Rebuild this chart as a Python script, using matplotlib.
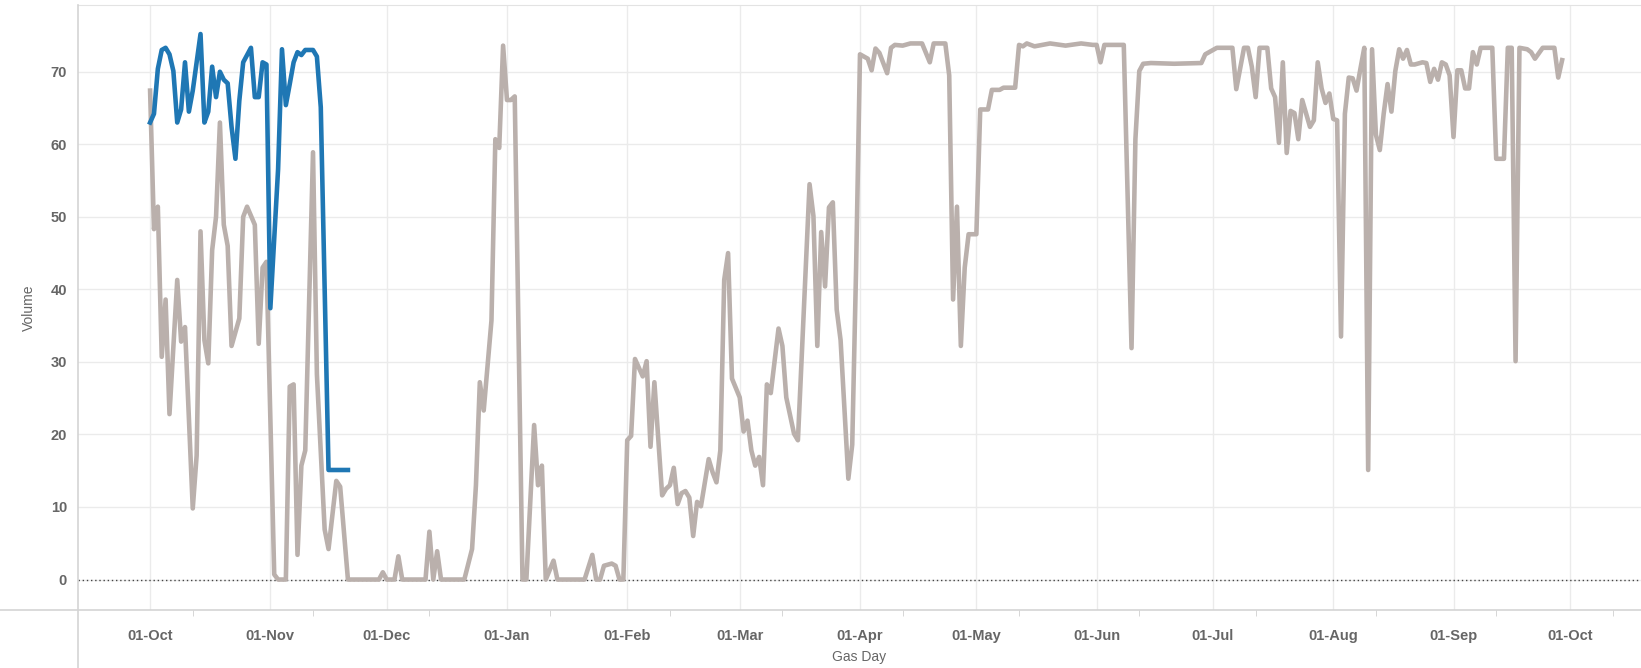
import matplotlib.pyplot as plt
import matplotlib.dates as mdates
from matplotlib.lines import Line2D
import numpy as np

# gas year starting 01-Oct (day offset, volume)
start = np.datetime64('2015-10-01')

gray_days = [0, 1, 2, 3, 4, 5, 7, 8, 9, 11, 12, 13, 14, 15, 16, 17, 18, 19, 20, 21,
             23, 24, 25, 27, 28, 29, 30, 32, 33, 35, 36, 37, 38, 39, 40, 42, 43, 45, 46, 48,
             49, 51, 59, 60, 61, 63, 64, 65, 71, 72, 73, 74, 75, 81, 83, 84, 85, 86, 88, 89,
             90, 91, 92, 93, 94, 96, 97, 99, 100, 101, 102, 104, 105, 112, 114, 115, 116, 117, 119, 120,
             121, 122, 123, 124, 125, 127, 128, 129, 130, 132, 133, 134, 135, 136, 137, 138, 139, 140, 141, 142,
             144, 145, 146, 147, 148, 149, 150, 152, 153, 154, 155, 156, 157, 158, 159, 160, 162, 163, 164, 166,
             167, 170, 171, 172, 173, 174, 175, 176, 177, 178, 180, 181, 182, 183, 185, 186, 187, 188, 190, 191,
             192, 194, 196, 199, 201, 202, 205, 206, 207, 208, 209, 210, 211, 213, 214, 216, 217, 219, 220, 223,
             224, 225, 226, 228, 232, 236, 240, 243, 244, 245, 246, 251, 253, 254, 255, 256, 258, 264, 271, 272,
             275, 279, 280, 282, 283, 284, 285, 286, 288, 289, 290, 291, 292, 293, 294, 295, 296, 297, 299, 300,
             301, 302, 303, 304, 305, 306, 307, 308, 309, 310, 311, 312, 313, 314, 315, 316, 317, 318, 319, 320,
             321, 322, 323, 324, 325, 326, 328, 329, 330, 331, 332, 333, 334, 335, 336, 337, 338, 339, 340, 341,
             342, 343, 346, 347, 349, 350, 351, 352, 353, 355, 356, 357, 359, 362, 363, 364]
gray_vol = [67.4, 48.3, 51.4, 30.7, 38.6, 22.8, 41.3, 32.8, 34.8, 9.8, 17.1, 48.0, 33.0, 29.8, 45.4, 50.0, 63.0, 48.9, 46.0, 32.2,
            36.0, 50.0, 51.4, 48.9, 32.5, 43.0, 43.8, 0.7, 0.0, 0.0, 26.6, 26.9, 3.4, 15.7, 17.8, 58.9, 28.3, 6.9, 4.2, 13.6,
            12.8, 0.0, 0.0, 1.0, 0.0, 0.0, 3.2, 0.0, 0.0, 6.6, 0.0, 3.9, 0.0, 0.0, 4.2, 13.0, 27.2, 23.3, 35.7, 60.7,
            59.5, 73.6, 66.1, 66.1, 66.6, 0.0, 0.0, 21.3, 13.0, 15.7, 0.0, 2.6, 0.0, 0.0, 3.4, 0.0, 0.0, 1.9, 2.2, 1.9,
            0.0, 0.0, 19.2, 19.8, 30.4, 28.0, 30.1, 18.3, 27.2, 11.6, 12.5, 13.0, 15.4, 10.4, 11.9, 12.2, 11.3, 6.0, 10.7, 10.1,
            16.6, 14.8, 13.4, 17.8, 41.3, 45.0, 27.7, 25.1, 20.4, 21.9, 17.8, 15.7, 16.9, 13.0, 26.9, 25.7, 34.6, 32.2, 25.1, 20.1,
            19.2, 54.5, 50.1, 32.2, 47.9, 40.4, 51.3, 52.0, 37.2, 33.0, 13.9, 18.6, 43.0, 72.4, 71.8, 70.2, 73.2, 72.6, 69.8, 73.3,
            73.7, 73.6, 73.9, 73.9, 71.3, 73.9, 73.9, 69.5, 38.6, 51.4, 32.2, 43.0, 47.6, 47.6, 64.8, 64.8, 67.5, 67.5, 67.8, 67.8,
            73.7, 73.5, 73.9, 73.5, 73.9, 73.6, 73.9, 73.7, 73.7, 71.3, 73.7, 73.7, 31.9, 60.7, 70.1, 71.1, 71.2, 71.1, 71.2, 72.4,
            73.3, 73.3, 67.6, 73.3, 73.3, 70.7, 66.5, 73.3, 73.3, 67.7, 66.5, 60.2, 71.3, 58.8, 64.6, 64.3, 60.7, 66.1, 62.4, 63.3,
            71.3, 67.7, 65.7, 67.0, 63.5, 63.3, 33.5, 64.2, 69.2, 69.1, 67.4, 70.4, 73.3, 15.1, 73.1, 61.3, 59.2, 64.2, 68.3, 64.5,
            70.1, 73.1, 71.8, 73.0, 71.0, 71.0, 71.3, 71.2, 68.6, 70.4, 68.9, 71.3, 71.0, 69.5, 61.0, 70.2, 70.2, 67.7, 67.7, 72.7,
            71.0, 73.3, 73.3, 58.0, 58.0, 73.3, 73.3, 30.1, 73.3, 73.1, 72.7, 71.8, 73.3, 73.3, 69.2, 71.6]

blue_days = [0, 1, 2, 3, 4, 5, 6, 7, 8, 9, 10, 11, 13, 14, 15, 16, 17, 18, 19, 20,
             21, 22, 23, 24, 26, 27, 28, 29, 30, 31, 33, 34, 35, 36, 37, 38, 39, 40, 42, 43,
             44, 46, 51]
blue_vol = [63.0, 64.2, 70.4, 73.0, 73.3, 72.4, 70.1, 63.0, 64.8, 71.3, 64.5, 67.4, 75.2, 63.0, 64.5, 70.7, 66.5, 70.0, 68.9, 68.4,
            62.4, 58.0, 66.0, 71.3, 73.3, 66.5, 66.5, 71.3, 71.0, 37.4, 56.6, 73.1, 65.4, 68.3, 71.3, 72.7, 72.3, 73.0, 73.0, 72.1,
            65.1, 15.1, 15.1]

gray_dates = start + np.array(gray_days).astype('timedelta64[D]')
blue_dates = start + np.array(blue_days).astype('timedelta64[D]')

plt.rcParams['font.family'] = ['Liberation Sans', 'DejaVu Sans']

W, H = 1641, 668
fig = plt.figure(figsize=(W / 100, H / 100), dpi=100)
left, top, bottom = 78, 5, 610
ax = fig.add_axes([left / W, 1 - bottom / H, 1 - left / W, (bottom - top) / H])

ax.plot(gray_dates, gray_vol, color='#bab0ac', linewidth=3.3, solid_joinstyle='round', zorder=3)
ax.plot(blue_dates, blue_vol, color='#1f77b4', linewidth=3.3, solid_joinstyle='round', zorder=4)
ax.axhline(0, color='#444444', linewidth=1, linestyle=(0, (1, 2)), zorder=2)

ax.set_xlim(np.datetime64('2015-09-12T10'), np.datetime64('2016-10-19T08'))
ax.set_ylim(-4.2, 79.2)
ax.set_yticks(np.arange(0, 80, 10))

ax.xaxis.set_major_locator(mdates.MonthLocator(bymonthday=1))
ax.xaxis.set_major_formatter(mdates.DateFormatter('%d-%b'))
ax.xaxis.set_minor_locator(mdates.MonthLocator(bymonthday=12))

ax.grid(True, which='major', color='#ebebeb', linewidth=1, zorder=0)
ax.set_axisbelow(True)

for s in ['left', 'right', 'bottom']:
    ax.spines[s].set_visible(False)
ax.spines['top'].set_color('#e3e3e3')

ax.tick_params(axis='both', which='major', length=0, labelsize=10.5, labelcolor='#666666')
ax.tick_params(axis='x', which='major', pad=14)
ax.tick_params(axis='y', pad=8)
ax.tick_params(axis='x', which='minor', length=4, color='#d0d0d0', direction='out')
for lab in ax.get_xticklabels() + ax.get_yticklabels():
    lab.set_fontweight('bold')

ax.set_ylabel('Volume', fontsize=10, color='#666666')
ax.yaxis.set_label_coords(-0.027, 0.5)
ax.set_xlabel('Gas Day', fontsize=10, color='#666666')
ax.xaxis.set_label_coords(0.5, -0.066)

# tableau-style frame lines running to the figure edges
fig.add_artist(Line2D([0, 1], [1 - bottom / H, 1 - bottom / H], color='#d4d4d4', linewidth=1.2))
fig.add_artist(Line2D([left / W, left / W], [0, 1 - top / H], color='#d4d4d4', linewidth=1.2))

fig.savefig('out.png', dpi=100)
